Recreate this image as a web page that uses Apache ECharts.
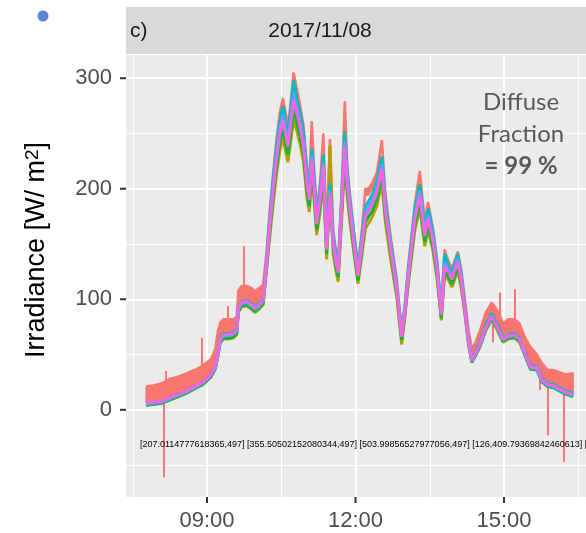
<!DOCTYPE html>
<html>
<head>
<meta charset="utf-8">
<script src="https://cdn.jsdelivr.net/npm/echarts@6/dist/echarts.min.js"></script>
<style>html,body{margin:0;padding:0;background:#fff}#main{width:586px;height:533px}</style>
</head>
<body>
<div id="main"></div>
<script>
// time of day in minutes after midnight
var minutes = [
  466,475,485,495,505,515,525,535,545,550,
  553,556,560,566,572,576,578,582,588,594,
  598,603,608,612,616,620,624,628,632,635,
  638,641,645,649,653,657,661,664,667,670,
  673,677,681,685,689,693,696,699,703,707,
  710,713,717,723,728,732,736,740,746,752,
  756,762,770,776,780,784,792,798,804,808,
  814,819,824,828,833,837,844,848,853,857,
  861,866,871,878,885,890,895,899,905,913,
  919,925,932,940,946,953,960,967,975,984
];
var magenta = [
  6,7,8,11,14,17,21,25,32,39,
  50,64,68,68,69,72,92,97,98,95,
  92,95,99,130,166,197,225,248,262,250,
  238,255,280,268,255,238,205,190,225,200,
  168,190,220,145,195,150,135,124,180,238,
  205,182,157,121,150,175,180,185,197,218,
  182,148,109,66,90,121,173,194,157,173,
  152,125,86,130,124,118,134,118,88,62,
  45,52,60,75,85,78,70,64,67,68,
  64,52,39,38,27,23,22,19,16,14
];
var cyan = [
  6,7,8,11,14,17,21,25,32,40,
  51,65,69,69,70,73,93,98,99,96,
  93,96,100,133,174,207,236,260,275,262,
  250,268,298,281,268,250,215,199,236,210,
  176,199,231,152,205,157,142,130,189,252,
  215,191,165,127,157,184,189,194,207,229,
  191,155,114,68,94,127,182,204,165,182,
  160,131,89,141,130,124,141,124,91,64,
  46,53,62,77,87,80,72,65,68,69,
  65,53,40,39,28,24,23,20,17,15
];
var blue = [
  5,6,7,10,13,16,20,24,31,38,
  49,63,67,67,68,71,91,96,97,94,
  91,94,98,131,169,201,229,253,267,255,
  243,260,286,273,260,243,209,194,230,204,
  171,194,224,148,199,153,138,126,184,243,
  209,186,160,123,153,179,184,189,201,222,
  186,151,111,67,92,123,176,198,160,176,
  155,127,88,133,126,120,137,120,87,61,
  44,51,59,74,84,77,69,63,66,67,
  63,51,38,37,26,22,21,18,15,13
];
var green = [
  4,5,6,9,12,15,19,23,30,37,
  48,61,65,65,66,69,89,94,95,92,
  89,92,96,127,161,191,218,241,254,243,
  231,247,272,260,247,231,199,184,218,194,
  163,184,213,141,189,146,131,120,175,231,
  199,177,152,117,146,170,175,179,191,211,
  177,144,106,63,87,117,168,188,152,168,
  147,121,83,126,120,114,130,114,86,60,
  43,50,58,73,83,76,68,62,65,66,
  62,50,37,36,25,21,20,17,14,12
];
var olive = [
  4,5,6,9,12,15,19,23,30,37,
  48,61,64,64,65,68,88,93,94,91,
  88,91,95,125,156,185,212,233,246,235,
  224,240,263,252,240,224,193,179,212,188,
  158,179,207,136,239,141,127,116,169,224,
  193,171,148,114,141,164,169,174,185,205,
  171,139,102,59,85,114,163,182,148,163,
  143,118,81,122,117,111,126,111,84,59,
  43,50,57,72,81,75,67,61,64,65,
  61,50,37,36,26,22,21,18,15,13
];
// red sensor: noisy, drawn as a band between low and high
var redHigh = [
  21,22,24,28,30,33,36,40,46,55,
  70,79,82,82,82,84,108,112,112,110,
  107,110,113,142,180,213,243,268,282,270,
  257,275,305,290,275,257,222,205,261,216,
  182,205,250,157,245,162,146,134,195,279,
  221,197,170,131,165,200,200,205,215,244,
  197,160,118,72,97,131,187,216,170,188,
  164,135,93,145,134,128,143,128,98,72,
  55,62,72,88,97,92,85,78,82,82,
  78,66,57,50,42,36,36,34,32,33
];
var redLow = [
  7,8,9,12,15,18,22,26,33,40,
  51,65,69,69,70,73,93,98,99,96,
  93,96,100,131,174,207,237,262,276,264,
  251,269,299,284,269,251,216,199,255,210,
  176,199,244,151,239,156,140,128,189,273,
  215,191,164,125,159,194,194,199,209,238,
  191,154,112,66,91,125,181,210,164,182,
  158,129,87,139,128,122,137,122,89,63,
  46,53,61,76,86,79,71,65,68,69,
  65,53,40,39,28,24,23,20,17,15
];
// [minute, from, to]
var redSpikes = [
  [487, 12, -61], [490, 20, 35], [534, 35, 65], [565, 80, 94], [585, 110, 148],
  [886, 85, 61], [895, 80, 106], [913, 78, 109], [943, 40, 18], [953, 30, -23], [972, 28, -47]
];

var xTicks = [540, 720, 900];
var xMinor = [450, 630, 810, 990];
var yTicks = [0, 100, 200, 300];
var yMinor = [-50, 50, 150, 250];
var xMin = 441.8, xMax = 999.4, yMin = -78.9, yMax = 321;

var colors = ['#F8766D', '#B79F00', '#00BA38', '#00BFC4', '#619CFF', '#F564E3'];

function pairs(xs, ys) {
  return xs.map(function (x, i) { return [x, ys[i]]; });
}
function hhmm(v) {
  var h = Math.floor(v / 60), m = Math.round(v % 60);
  return (h < 10 ? '0' : '') + h + ':' + (m < 10 ? '0' : '') + m;
}

var grids = [];
xTicks.forEach(function (v) { grids.push({ xAxis: v, lineStyle: { width: 2 } }); });
xMinor.forEach(function (v) { grids.push({ xAxis: v, lineStyle: { width: 1 } }); });
yTicks.forEach(function (v) { grids.push({ yAxis: v, lineStyle: { width: 2 } }); });
yMinor.forEach(function (v) { grids.push({ yAxis: v, lineStyle: { width: 1 } }); });

function sensor(color, vals) {
  return {
    type: 'line', data: pairs(minutes, vals), showSymbol: false,
    lineStyle: { color: color, width: 3 }, z: 3
  };
}

// band segment between two consecutive samples
function renderBand(params, api) {
  var i = params.dataIndexInside;
  if (i >= params.dataInsideLength - 1) return null;
  var a = api.coord([api.value(0, i), api.value(1, i)]);
  var b = api.coord([api.value(0, i), api.value(2, i)]);
  var c = api.coord([api.value(0, i + 1), api.value(2, i + 1)]);
  var d = api.coord([api.value(0, i + 1), api.value(1, i + 1)]);
  return {
    type: 'polygon', shape: { points: [a, b, c, d] },
    style: { fill: colors[0], stroke: colors[0], lineWidth: 1 }
  };
}

var myChart = echarts.init(document.getElementById('main'));
var option = {
  animation: false,
  grid: { left: 126, right: 0, top: 55, bottom: 36, show: true, backgroundColor: '#EBEBEB', borderWidth: 0 },
  xAxis: {
    type: 'value', min: xMin, max: xMax,
    splitLine: { show: false }, axisLine: { show: false, onZero: false }, axisTick: { show: false },
    axisLabel: { customValues: xTicks, formatter: hhmm, fontSize: 22, color: '#4D4D4D', margin: 13, fontFamily: 'Liberation Sans' }
  },
  yAxis: {
    type: 'value', min: yMin, max: yMax,
    splitLine: { show: false }, axisLine: { show: false, onZero: false }, axisTick: { show: false },
    axisLabel: { customValues: yTicks, fontSize: 22, color: '#4D4D4D', margin: 14, fontFamily: 'Liberation Sans' }
  },
  series: [
    { type: 'line', data: pairs(minutes, magenta), showSymbol: false, lineStyle: { opacity: 0 }, z: 1,
      markLine: { z: 1, silent: true, symbol: ['none', 'none'], label: { show: false }, lineStyle: { color: '#fff', type: 'solid' }, data: grids } },
    { type: 'custom', renderItem: renderBand, z: 2, clip: true,
      data: minutes.map(function (t, i) { return [t, redLow[i], redHigh[i]]; }),
      markLine: { z: 2, silent: true, symbol: ['none', 'none'], label: { show: false }, lineStyle: { color: colors[0], width: 2, type: 'solid' },
        data: redSpikes.map(function (s) { return [{ coord: [s[0], s[1]] }, { coord: [s[0], s[2]] }]; }) } },
    { type: 'line', data: pairs(minutes, redHigh), showSymbol: false, lineStyle: { color: colors[0], width: 2.5 }, z: 2 },
    sensor(colors[1], olive),
    sensor(colors[2], green),
    sensor(colors[3], cyan),
    sensor(colors[4], blue),
    sensor(colors[5], magenta)
  ]
};
myChart.setOption(option);

// strip, titles, annotation and ggplot-style outward ticks (placed through the chart's scales)
var graphics = [
  { type: 'rect', z: 11, shape: { x: 126, y: 7, width: 460, height: 47 }, style: { fill: '#D9D9D9' } },
  { type: 'text', z: 11, x: 130, y: 31, style: { text: 'c)', fill: '#1A1A1A', fontSize: 21, fontFamily: 'Liberation Sans', textAlign: 'left', textVerticalAlign: 'middle' } },
  { type: 'text', z: 11, x: 320, y: 31, style: { text: '2017/11/08', fill: '#1A1A1A', fontSize: 21, fontFamily: 'Liberation Sans', textAlign: 'center', textVerticalAlign: 'middle' } },
  { type: 'circle', z: 11, shape: { cx: 43, cy: 16, r: 5.5 }, style: { fill: '#5B87CF' } },
  { type: 'text', z: 11, x: 37, y: 250, rotation: Math.PI / 2,
    style: { text: 'Irradiance [W/ m{s|2}]', fill: '#000', fontSize: 27, fontFamily: 'Liberation Sans', textAlign: 'center', textVerticalAlign: 'middle',
      rich: { s: { fontSize: 19, fill: '#000', fontFamily: 'Liberation Sans', verticalAlign: 'top' } } } },
  { type: 'text', z: 11, x: 521, y: 134,
    style: { text: 'Diffuse\nFraction\n{b|= 99 %}', fill: '#595959', fontSize: 24, lineHeight: 32, fontFamily: 'Lato', textAlign: 'center', textVerticalAlign: 'middle',
      rich: { b: { fontSize: 24, lineHeight: 32, fontWeight: 'bold', fill: '#595959', fontFamily: 'Lato' } } } }
];
var dbg = [];
xTicks.forEach(function (v) {
  var p = myChart.convertToPixel({ gridIndex: 0 }, [v, yMin]);
  dbg.push(JSON.stringify(p));
  graphics.push({ type: 'line', z: 12, shape: { x1: p[0], y1: p[1], x2: p[0], y2: p[1] + 6 }, style: { stroke: '#333', lineWidth: 2 } });
});
yTicks.forEach(function (v) {
  var p = myChart.convertToPixel({ gridIndex: 0 }, [xMin, v]);
  dbg.push(JSON.stringify(p));
  graphics.push({ type: 'line', z: 12, shape: { x1: p[0] - 6, y1: p[1], x2: p[0], y2: p[1] }, style: { stroke: '#333', lineWidth: 2 } });
});
graphics.push({ type: 'text', z: 12, x: 140, y: 440, style: { text: dbg.join(' '), fill: '#000', fontSize: 9 } });
myChart.setOption({ graphic: graphics });
</script>
</body>
</html>
